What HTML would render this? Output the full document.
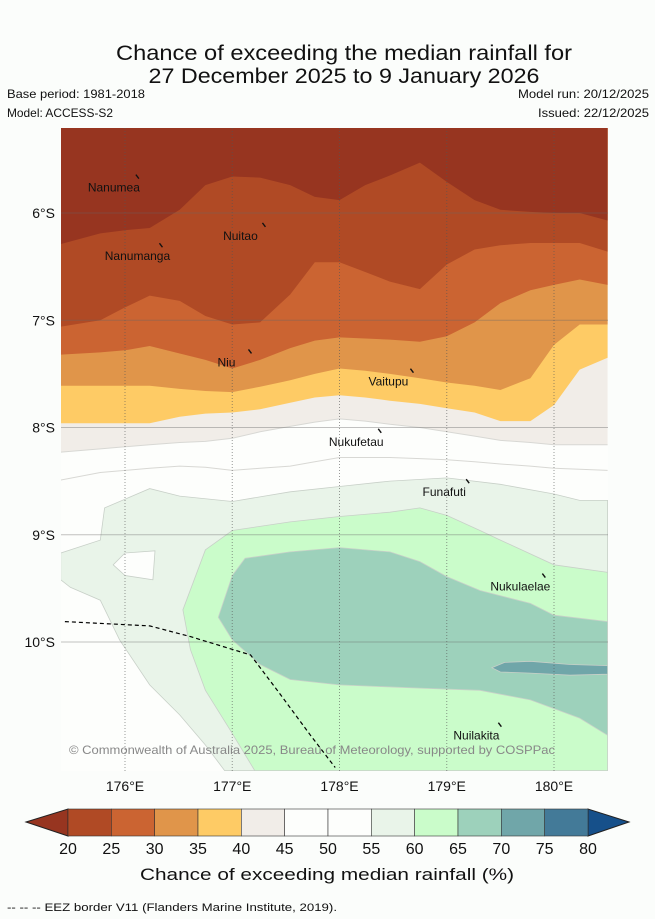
<!DOCTYPE html>
<html><head><meta charset="utf-8"><style>
html,body{margin:0;padding:0;background:#fbfdfb;}
svg{display:block;font-family:"Liberation Sans","DejaVu Sans",sans-serif;}
</style></head><body>
<svg id="chart" width="655" height="919" viewBox="0 0 655 919" xmlns="http://www.w3.org/2000/svg">
<rect x="0" y="0" width="655" height="919" fill="#fbfdfb"/>
<text x="344" y="60" font-size="21" text-anchor="middle" textLength="456" lengthAdjust="spacingAndGlyphs" fill="#111">Chance of exceeding the median rainfall for</text>
<text x="344" y="83" font-size="21" text-anchor="middle" textLength="391" lengthAdjust="spacingAndGlyphs" fill="#111">27 December 2025 to 9 January 2026</text>
<text x="7" y="98" font-size="12" textLength="138" lengthAdjust="spacingAndGlyphs" fill="#111">Base period: 1981-2018</text>
<text x="7" y="117" font-size="12" textLength="106" lengthAdjust="spacingAndGlyphs" fill="#111">Model: ACCESS-S2</text>
<text x="649" y="98" font-size="12" text-anchor="end" textLength="131" lengthAdjust="spacingAndGlyphs" fill="#111">Model run: 20/12/2025</text>
<text x="649" y="117" font-size="12" text-anchor="end" textLength="111" lengthAdjust="spacingAndGlyphs" fill="#111">Issued: 22/12/2025</text>
<defs><clipPath id="mapclip"><rect x="61" y="128" width="547" height="643"/></clipPath></defs>
<g id="map" clip-path="url(#mapclip)"></g>
<g id="overlay"></g>
<g id="axes"></g>
<g id="cbar"></g>
<text x="327" y="880" font-size="17" text-anchor="middle" textLength="374" lengthAdjust="spacingAndGlyphs" fill="#111">Chance of exceeding median rainfall (%)</text>
<text x="7" y="911" font-size="11" textLength="330" lengthAdjust="spacingAndGlyphs" fill="#111">--  --  -- EEZ border V11 (Flanders Marine Institute, 2019).</text>
</svg>
<script>
// ---- data ----
const gridLons = [175.4,175.77,176.0,176.23,176.51,176.75,177.0,177.26,177.54,177.77,178.0,178.24,178.47,178.75,179.0,179.26,179.5,179.78,180.0,180.24,180.5];
const b20 = [6.29,6.19,6.16,6.14,5.97,5.74,5.66,5.67,5.74,5.85,5.88,5.74,5.65,5.53,5.71,5.88,5.97,5.99,6.0,6.0,6.07];
const b25 = [7.06,7.0,6.88,6.77,6.82,6.96,7.04,7.02,6.76,6.46,6.46,6.55,6.64,6.71,6.48,6.34,6.30,6.28,6.28,6.28,6.36];
const b30 = [7.32,7.30,7.28,7.24,7.31,7.37,7.45,7.37,7.26,7.19,7.16,7.17,7.18,7.20,7.15,7.02,6.84,6.72,6.67,6.62,6.67];
const b35 = [7.61,7.61,7.61,7.61,7.64,7.66,7.67,7.62,7.56,7.50,7.45,7.47,7.50,7.54,7.58,7.61,7.65,7.54,7.23,7.04,7.04];
const b40 = [7.96,7.96,7.96,7.96,7.90,7.87,7.86,7.83,7.77,7.72,7.70,7.72,7.75,7.78,7.82,7.86,7.94,7.94,7.79,7.46,7.35];
const b45 = [8.23,8.20,8.18,8.16,8.14,8.13,8.10,8.04,7.99,7.95,7.92,7.94,7.97,8.0,8.04,8.08,8.12,8.14,8.16,8.16,8.16];
const b50 = [8.49,8.42,8.40,8.38,8.36,8.37,8.40,8.38,8.36,8.32,8.28,8.28,8.28,8.29,8.30,8.32,8.34,8.36,8.38,8.39,8.40];
const p55Lons = [175.40,175.77,175.81,176.23,176.51,177.0,177.54,178.0,178.47,179.0,179.5,180.0,180.24,180.5,180.5,176.93,176.75,176.51,176.23,175.95,175.77,175.49,175.40];
const p55Lats = [9.17,9.05,8.75,8.57,8.64,8.69,8.60,8.55,8.50,8.47,8.53,8.62,8.68,8.68,11.2,11.2,10.96,10.68,10.40,9.98,9.61,9.49,9.42];
const hole55Lons = [175.89,176.0,176.28,176.26,176.0];
const hole55Lats = [9.28,9.17,9.15,9.42,9.38];
const p60Lons = [176.75,177.0,177.54,178.0,178.47,178.75,179.0,179.31,179.5,180.0,180.5,180.5,177.21,176.98,176.75,176.61,176.54];
const p60Lats = [9.14,8.96,8.88,8.83,8.79,8.75,8.82,8.96,9.05,9.28,9.35,11.2,11.2,10.82,10.45,10.07,9.70];
const p65Lons = [177.0,177.12,177.54,178.0,178.47,178.75,179.0,179.31,179.78,180.0,180.5,180.5,180.24,179.78,179.31,178.75,178.0,177.54,177.26,177.0,176.87];
const p65Lats = [9.38,9.22,9.16,9.12,9.16,9.25,9.39,9.52,9.64,9.75,9.81,10.87,10.71,10.54,10.45,10.43,10.40,10.35,10.21,9.98,9.77];
const p70Lons = [179.42,179.54,179.78,180.15,180.5,180.5,180.15,179.78,179.5];
const p70Lats = [10.24,10.19,10.18,10.21,10.22,10.30,10.31,10.29,10.28];
const eezLons = [175.44,176.23,176.61,177.17,177.45,177.73,177.96];
const eezLats = [9.81,9.85,9.95,10.12,10.49,10.87,11.17];
const islandNames = ["Nanumea","Nanumanga","Nuitao","Niu","Vaitupu","Nukufetau","Funafuti","Nukulaelae","Nuilakita"];
const islandLons = [176.12,176.34,177.30,177.17,178.68,178.38,179.20,179.91,179.50];
const islandLats = [5.67,6.31,6.12,7.30,7.48,8.04,8.51,9.39,10.78];
const lonTicks = [176,177,178,179,180];
const latTicks = [6,7,8,9,10];
const cbarLevels = [20,25,30,35,40,45,50,55,60,65,70,75,80];
const cbarColors = ["#b04a25","#cb6432","#e0954a","#fecb65","#f1ede8","#fdfefc","#fdfefc","#e9f4e9","#cafcca","#9dd1bb","#70a6a9","#437a98"];
// ---- axes ----
const NS="http://www.w3.org/2000/svg";
function xOf(lon){return 125+(lon-176)*107.25;}
function yOf(lat){return 213+(lat-6)*107.25;}
function mk(tag,attrs,parent){const e=document.createElementNS(NS,tag);for(const k in attrs)e.setAttribute(k,attrs[k]);parent.appendChild(e);return e;}
const map=document.getElementById('map'),ov=document.getElementById('overlay'),ax=document.getElementById('axes'),cb=document.getElementById('cbar');
function ptsLine(lons,lats){return lons.map((l,i)=>xOf(l).toFixed(1)+','+yOf(lats[i]).toFixed(1));}
function topPoly(lats){const p=ptsLine(gridLons,lats);return [xOf(180.5)+','+yOf(4),xOf(175.4)+','+yOf(4)].concat(p).join(' ');}
const bg=mk('rect',{x:61,y:128,width:547,height:643,fill:'#fdfefc'},map);


const topBands=[[b45,'#f1ede8','band-40-45'],[b40,'#fecb65','band-35-40'],[b35,'#e0954a','band-30-35'],[b30,'#cb6432','band-25-30'],[b25,'#b04a25','band-20-25'],[b20,'#973520','band-below-20']];
topBands.forEach(b=>{const e=mk('polygon',{points:topPoly(b[0]),fill:b[1]},map);

});
const l50=mk('polyline',{points:ptsLine(gridLons,b50).join(' '),fill:'none',stroke:'#d8d8d4','stroke-width':1},map);


const bl45=mk('polyline',{points:ptsLine(gridLons,b45).join(' '),fill:'none',stroke:'#d8d8d4','stroke-width':1},map);


const lowBands=[[p55Lons,p55Lats,'#e9f4e9','band-55-60'],[hole55Lons,hole55Lats,'#fdfefc','band-55-hole'],[p60Lons,p60Lats,'#cafcca','band-60-65'],[p65Lons,p65Lats,'#9dd1bb','band-65-70'],[p70Lons,p70Lats,'#70a6a9','band-70-75']];
lowBands.forEach(b=>{const e=mk('polygon',{points:ptsLine(b[0],b[1]).join(' '),fill:b[2],stroke:'#c8d0c8','stroke-width':0.8},map);

});
// grid
lonTicks.forEach(t=>{const g=mk('line',{x1:xOf(t),x2:xOf(t),y1:128,y2:771,stroke:'#555','stroke-width':1,'stroke-dasharray':'1,2','stroke-opacity':0.6},ov);


const tx=mk('text',{x:xOf(t),y:791,'font-size':14,'text-anchor':'middle',fill:'#111'},ax);tx.textContent=t+'°E';

});
latTicks.forEach(t=>{const g=mk('line',{x1:61,x2:608,y1:yOf(t),y2:yOf(t),stroke:'#666','stroke-width':1,'stroke-opacity':0.4},ov);


const tx=mk('text',{x:55,y:yOf(t)+5,'font-size':14,'text-anchor':'end',fill:'#111'},ax);tx.textContent=t+'°S';

});
// eez
const eez=mk('polyline',{points:ptsLine(eezLons,eezLats).join(' '),fill:'none',stroke:'#000','stroke-width':1.2,'stroke-dasharray':'4,3'},ov);


// islands
islandNames.forEach((n,i)=>{const x=xOf(islandLons[i]),y=yOf(islandLats[i]);
const m=mk('path',{d:`M${x-2},${y-3} l3,4`,stroke:'#111','stroke-width':1.4,fill:'none'},ov);


const t=mk('text',{x:x-24,y:y+14,'font-size':12,'text-anchor':'middle',fill:'#111'},ov);t.textContent=n;

});
const cr=mk('text',{x:312,y:754,'font-size':12,'text-anchor':'middle',fill:'#888',textLength:486,lengthAdjust:'spacingAndGlyphs'},ov);cr.textContent='© Commonwealth of Australia 2025, Bureau of Meteorology, supported by COSPPac';


// colorbar
function cx(v){return 68+(v-20)*(520/60);}
const la=mk('polygon',{points:`26,822 ${cx(20)},809 ${cx(20)},836`,fill:'#973520',stroke:'#222','stroke-width':1},cb);


const ra=mk('polygon',{points:`629,822 ${cx(80)},809 ${cx(80)},836`,fill:'#16508a',stroke:'#222','stroke-width':1},cb);


cbarColors.forEach((c,i)=>{const r=mk('rect',{x:cx(cbarLevels[i]),y:809,width:cx(cbarLevels[i+1])-cx(cbarLevels[i]),height:27,fill:c,stroke:'#333','stroke-width':0.6},cb);

});
cbarLevels.forEach(v=>{const t=mk('text',{x:cx(v),y:854,'font-size':16,'text-anchor':'middle',fill:'#111'},cb);t.textContent=v;

});
</script>
</body></html>
